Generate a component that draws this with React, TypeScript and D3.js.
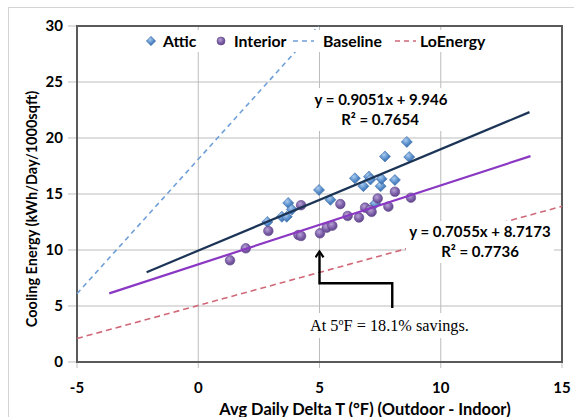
import React from "react";
import * as d3 from "d3";

// ---- data ----
const atticX = [2.85, 3.45, 3.65, 3.71, 3.86, 4.98, 5.45, 6.46, 6.81, 7.04, 7.1, 7.52, 7.56, 8.11, 7.3, 7.7, 8.7, 8.6];
const atticY = [12.5, 12.97, 12.97, 14.2, 13.62, 15.36, 14.48, 16.4, 15.7, 16.55, 16.3, 15.7, 16.35, 16.25, 14.15, 18.35, 18.3, 19.65];
const interiorX = [1.31, 1.96, 2.89, 4.13, 4.24, 4.24, 5.02, 5.3, 5.53, 5.86, 6.16, 6.63, 6.88, 7.08, 7.15, 7.4, 7.84, 8.11, 8.77];
const interiorY = [9.08, 10.15, 11.7, 11.34, 11.25, 14.0, 11.49, 11.99, 12.17, 14.1, 13.04, 12.9, 13.78, 13.57, 13.4, 14.6, 13.87, 15.2, 14.67];

// trendlines (slope, intercept, x-range)
const atticTrend = { slope: 0.9051, intercept: 9.946, from: -2.13, to: 13.66 };
const interiorTrend = { slope: 0.7055, intercept: 8.7173, from: -3.67, to: 13.7 };

// reference lines (end points)
const baselineX = [-5, 4.96];
const baselineY = [6.1, 30];
const loEnergyX = [-5, 15];
const loEnergyY = [2.1, 13.9];

const xTicks = [-5, 0, 5, 10, 15];
const yTicks = [0, 5, 10, 15, 20, 25, 30];

const legendLabels = ["Attic", "Interior", "Baseline", "LoEnergy"];
const eqAttic = ["y = 0.9051x + 9.946", "R² = 0.7654"];
const eqInterior = ["y = 0.7055x + 8.7173", "R² = 0.7736"];

// annotation (arrow path in data coords)
const arrowX = [8.0, 8.0, 5, 5];
const arrowY = [4.82, 7.03, 7.03, 9.7];

export default function App() {
  const x = d3.scaleLinear().domain([-5, 15]).range([77, 562]);
  const y = d3.scaleLinear().domain([0, 30]).range([362, 26]);
  const font = "Lato, 'Open Sans', sans-serif";

  const line = d3
    .line<[number, number]>()
    .x((d) => x(d[0]))
    .y((d) => y(d[1]));

  const trendPts = (t: typeof atticTrend): [number, number][] => [
    [t.from, t.slope * t.from + t.intercept],
    [t.to, t.slope * t.to + t.intercept],
  ];

  const diamond = d3.symbol().type(d3.symbolDiamond2).size(78)();
  const arrowPts: [number, number][] = arrowX.map((v, i) => [v, arrowY[i]]);
  const legFs = 15.8;

  return (
    <svg
      width={574}
      height={417}
      style={{ position: "absolute", left: 0, top: 0, background: "#fff" }}
    >
      <defs>
        <radialGradient id="gBlue" cx="40%" cy="35%" r="70%">
          <stop offset="0%" stopColor="#A9CBF0" />
          <stop offset="60%" stopColor="#4F86C6" />
          <stop offset="100%" stopColor="#3A6BA8" />
        </radialGradient>
        <radialGradient id="gPurple" cx="40%" cy="35%" r="70%">
          <stop offset="0%" stopColor="#B7A2D6" />
          <stop offset="60%" stopColor="#7A5CA6" />
          <stop offset="100%" stopColor="#5E4488" />
        </radialGradient>
        <marker id="arrowHead" markerWidth="10" markerHeight="10" refX="5" refY="5" orient="auto" markerUnits="userSpaceOnUse">
          <path d="M1,1 L7,5 L1,9" fill="none" stroke="#000" strokeWidth={2.2} />
        </marker>
      </defs>

      {/* outer frame */}
      <rect x={8.5} y={7.5} width={600} height={430} fill="#fff" stroke="#D4D4D4" strokeWidth={1} />

      {/* gridlines + ticks */}
      {yTicks.map((t) => (
        <line key={"gy" + t} x1={68} x2={562} y1={y(t)} y2={y(t)} stroke="#BDBDBD" strokeWidth={1} />
      ))}
      {xTicks.map((t) => (
        <line key={"gx" + t} x1={x(t)} x2={x(t)} y1={26} y2={368} stroke="#BDBDBD" strokeWidth={1} />
      ))}

      {/* plot border */}
      <rect x={77} y={26} width={485} height={336} fill="none" stroke="#5A5A5A" strokeWidth={2} />

      {/* tick labels */}
      {yTicks.map((t) => (
        <text key={"ly" + t} x={63} y={y(t)} dy="0.35em" textAnchor="end" fontFamily={font} fontWeight="bold" fontSize={15} fill="#000">
          {t}
        </text>
      ))}
      {xTicks.map((t) => (
        <text key={"lx" + t} x={x(t)} y={388} dy="0.35em" textAnchor="middle" fontFamily={font} fontWeight="bold" fontSize={15} fill="#000">
          {t}
        </text>
      ))}

      {/* axis titles */}
      <text x={365} y={414.5} textAnchor="middle" fontFamily={font} fontWeight="bold" fontSize={16.4} fill="#000">
        Avg Daily Delta T (°F) (Outdoor - Indoor)
      </text>
      <text
        transform={`translate(37,209) rotate(-90)`}
        textAnchor="middle"
        fontFamily={font}
        fontWeight="bold"
        fontSize={14.5}
        fill="#000"
      >
        Cooling Energy (kWh/Day/1000sqft)
      </text>

      {/* reference lines */}
      <path
        d={line(baselineX.map((v, i) => [v, baselineY[i]]) as [number, number][]) || ""}
        stroke="#6F9FD8"
        strokeWidth={1.6}
        strokeDasharray="5,4"
        fill="none"
      />
      <path
        d={line(loEnergyX.map((v, i) => [v, loEnergyY[i]]) as [number, number][]) || ""}
        stroke="#D06878"
        strokeWidth={1.6}
        strokeDasharray="6,4"
        fill="none"
      />

      {/* markers */}
      {atticX.map((v, i) => (
        <path
          key={"a" + i}
          d={diamond || ""}
          transform={`translate(${x(v)},${y(atticY[i])})`}
          fill="url(#gBlue)"
          stroke="#3F6FA8"
          strokeWidth={0.6}
        />
      ))}
      {interiorX.map((v, i) => (
        <circle key={"p" + i} cx={x(v)} cy={y(interiorY[i])} r={4.8} fill="url(#gPurple)" stroke="#5E4488" strokeWidth={0.6} />
      ))}

      {/* trendlines */}
      <path d={line(trendPts(atticTrend)) || ""} stroke="#1C3557" strokeWidth={2.2} fill="none" />
      <path d={line(trendPts(interiorTrend)) || ""} stroke="#8A38C4" strokeWidth={2.2} fill="none" />

      {/* equation labels */}
      <rect x={310} y={88} width={142} height={43} fill="#fff" />
      <text x={381} y={105} textAnchor="middle" fontFamily={font} fontWeight="bold" fontSize={15} fill="#000">
        {eqAttic[0]}
      </text>
      <text x={380} y={125} textAnchor="middle" fontFamily={font} fontWeight="bold" fontSize={15} fill="#000">
        {eqAttic[1]}
      </text>
      <rect x={406} y={221} width={148} height={42} fill="#fff" />
      <text x={480} y={237} textAnchor="middle" fontFamily={font} fontWeight="bold" fontSize={15} fill="#000">
        {eqInterior[0]}
      </text>
      <text x={480} y={257} textAnchor="middle" fontFamily={font} fontWeight="bold" fontSize={15} fill="#000">
        {eqInterior[1]}
      </text>

      {/* legend */}
      <rect x={140} y={30} width={350} height={22} fill="#fff" />
      <path d={d3.symbol().type(d3.symbolDiamond2).size(55)() || ""} transform="translate(151,41)" fill="url(#gBlue)" stroke="#3F6FA8" strokeWidth={0.6} />
      <text x={163} y={41} dy="0.35em" fontFamily={font} fontWeight="bold" fontSize={legFs} fill="#000">
        {legendLabels[0]}
      </text>
      <circle cx={221} cy={41} r={4} fill="url(#gPurple)" stroke="#5E4488" strokeWidth={0.6} />
      <text x={234} y={41} dy="0.35em" fontFamily={font} fontWeight="bold" fontSize={legFs} fill="#000">
        {legendLabels[1]}
      </text>
      <line x1={293} x2={314} y1={41} y2={41} stroke="#6F9FD8" strokeWidth={1.6} strokeDasharray="5,4" />
      <text x={323} y={41} dy="0.35em" fontFamily={font} fontWeight="bold" fontSize={legFs} fill="#000">
        {legendLabels[2]}
      </text>
      <line x1={395} x2={416} y1={41} y2={41} stroke="#D06878" strokeWidth={1.6} strokeDasharray="5,4" />
      <text x={420} y={41} dy="0.35em" fontFamily={font} fontWeight="bold" fontSize={legFs} fill="#000">
        {legendLabels[3]}
      </text>

      {/* annotation */}
      <rect x={302} y={313} width={176} height={25} fill="#fff" />
      <path d={line(arrowPts) || ""} stroke="#000" strokeWidth={2.4} fill="none" markerEnd="url(#arrowHead)" />
      <text x={310} y={331} fontFamily="'Liberation Serif', 'Times New Roman', serif" fontSize={16.3} fill="#000">
        At 5<tspan fontSize={10} dy={-6}>o</tspan>
        <tspan dy={6}>F = 18.1% savings.</tspan>
      </text>
    </svg>
  );
}
